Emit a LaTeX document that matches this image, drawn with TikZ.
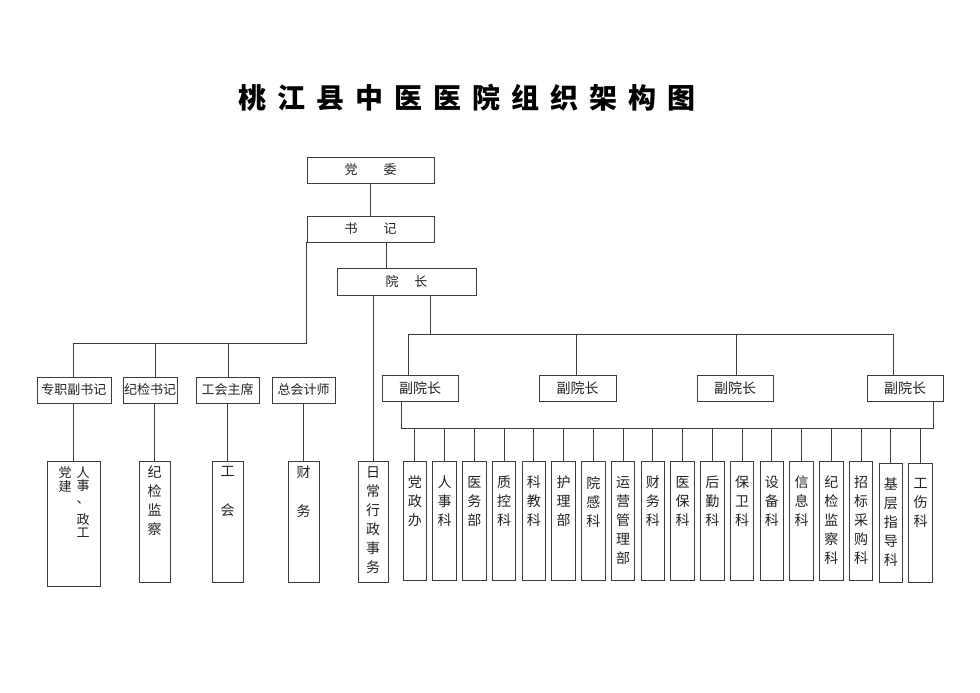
\documentclass[tikz,border=0pt]{standalone}
\usepackage{fontspec}
\setmainfont{Noto Sans CJK SC}
\definecolor{lc}{HTML}{3C3C3C}
\definecolor{tc}{HTML}{222222}
\begin{document}
\begin{tikzpicture}[x=1pt,y=-1pt,
  box/.style={draw=lc,line width=1pt,rectangle,inner sep=0pt,text=tc},
  conn/.style={draw=lc,line width=1pt},
  hlab/.style={font=\fontsize{13}{15}\selectfont},
  dlab/.style={font=\fontsize{14}{16}\selectfont},
  vlab/.style={font=\fontsize{14}{19}\selectfont,text=tc,align=center,inner sep=0pt,anchor=north},
  ttl/.style={font=\fontsize{28}{30}\selectfont\bfseries,text=black,inner sep=0pt}
]
\useasboundingbox (0,0) rectangle (980,693);
\fill[white] (0,0) rectangle (980,693);
% title
\foreach \c [count=\i from 0] in {桃,江,县,中,医,医,院,组,织,架,构,图}
  \node[ttl] (t\i) at (252+39*\i,98) {\c};
% top chain
\node[box,hlab,minimum width=127pt,minimum height=26pt] (dw) at (370.5,170) {党\hspace{26pt}委};
\node[box,hlab,minimum width=127pt,minimum height=26pt] (sj) at (370.5,229) {书\hspace{26pt}记};
\node[box,hlab,minimum width=139pt,minimum height=27pt] (yz) at (406.5,281.5) {院\hspace{16pt}长};
\draw[conn] (dw.south) -- (sj.north);
\coordinate (sjb) at (386,242);
\draw[conn] (sjb) -- (sjb |- yz.north);
% second level (left)
\node[box,hlab,minimum width=74pt,minimum height=26pt] (zz) at (74,390) {专职副书记};
\node[box,hlab,minimum width=54pt,minimum height=26pt] (jj) at (150,390) {纪检书记};
\node[box,hlab,minimum width=63pt,minimum height=26pt] (gh) at (227.5,390) {工会主席};
\node[box,hlab,minimum width=63pt,minimum height=26pt] (zk) at (303.5,390) {总会计师};
\coordinate (sjl) at (306,242);
\coordinate (lbus) at (306,343);
\coordinate (lb1) at (73,343);
\coordinate (lb2) at (155,343);
\coordinate (lb3) at (228,343);
\draw[conn] (sjl) -- (lbus) -- (lb1) -- (lb1 |- zz.north);
\draw[conn] (lb2) -- (lb2 |- jj.north);
\draw[conn] (lb3) -- (lb3 |- gh.north);
% lower left boxes
\node[box,minimum width=53pt,minimum height=125pt] (b1) at (73.5,523.5) {};
\node[box,minimum width=31pt,minimum height=121pt] (b2) at (154.5,521.5) {};
\node[box,minimum width=31pt,minimum height=121pt] (b3) at (227.5,521.5) {};
\node[box,minimum width=31pt,minimum height=121pt] (b4) at (303.5,521.5) {};
\draw[conn] (b1.north |- zz.south) -- (b1.north);
\draw[conn] (b2.north |- jj.south) -- (b2.north);
\draw[conn] (b3.north |- gh.south) -- (b3.north);
\draw[conn] (b4.north |- zk.south) -- (b4.north);
\node[vlab,font=\fontsize{13}{13}\selectfont] (b1r) at (83,466) {人\\事\\、\\[8pt]政\\工};
\node[vlab,font=\fontsize{13}{14}\selectfont] (b1l) at (65,466) {党\\建};
\node[vlab] (b2t) at (154.5,466) {纪\\检\\监\\察};
\node[vlab] (b3t) at (227.5,466) {工\\[20pt]会};
\node[vlab] (b4t) at (303.5,466) {财\\[20pt]务};
% daily affairs
\node[box,minimum width=30pt,minimum height=121pt] (rc) at (373,521.5) {};
\draw[conn] (rc.north |- yz.south) -- (rc.north);
\node[vlab] (rct) at (373,466) {日\\常\\行\\政\\事\\务};
% deputies
\node[box,dlab,minimum width=76pt,minimum height=26pt] (d1) at (420,388) {副院长};
\node[box,dlab,minimum width=77pt,minimum height=26pt] (d2) at (577.5,388) {副院长};
\node[box,dlab,minimum width=76pt,minimum height=26pt] (d3) at (735,388) {副院长};
\node[box,dlab,minimum width=76pt,minimum height=26pt] (d4) at (905,388) {副院长};
\coordinate (yzb) at (430,295);
\coordinate (dbus) at (430,334);
\coordinate (db1) at (408,334);
\coordinate (db2) at (576,334);
\coordinate (db3) at (736,334);
\coordinate (db4) at (893,334);
\draw[conn] (yzb) -- (dbus);
\draw[conn] (db1 |- d1.north) -- (db1) -- (db4) -- (db4 |- d4.north);
\draw[conn] (db2) -- (db2 |- d2.north);
\draw[conn] (db3) -- (db3 |- d3.north);
% departments bus
\coordinate (pbus) at (401,428);
\coordinate (pbe) at (933,428);
\draw[conn] (pbus |- d1.south) -- (pbus) -- (pbe) -- (pbe |- d4.south);
\foreach \t [count=\i from 0] in {{党\\政\\办},{人\\事\\科},{医\\务\\部},{质\\控\\科},{科\\教\\科},{护\\理\\部},{院\\感\\科},{运\\营\\管\\理\\部},{财\\务\\科},{医\\保\\科},{后\\勤\\科},{保\\卫\\科},{设\\备\\科},{信\\息\\科},{纪\\检\\监\\察\\科},{招\\标\\采\\购\\科},{基\\层\\指\\导\\科},{工\\伤\\科}}{
  \pgfmathsetmacro\cx{414.75+29.75*\i}
  \pgfmathsetmacro\dy{\i>15 ? 2 : 0}
  \node[box,minimum width=23.5pt,minimum height=119pt] (p\i) at (\cx,520.5+\dy) {};
  \draw[conn] (p\i.north |- pbus) -- (p\i.north);
  \node[vlab] (pt\i) at (\cx,476+\dy) {\t};
}
\end{tikzpicture}
\end{document}
